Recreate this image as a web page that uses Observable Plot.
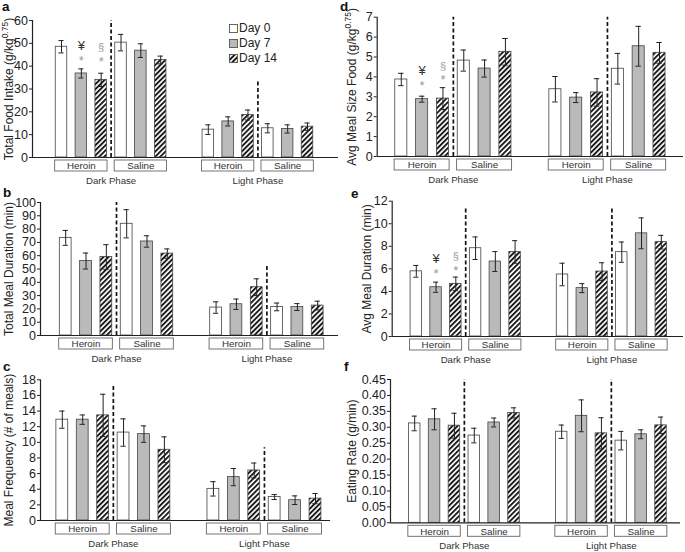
<!DOCTYPE html>
<html><head><meta charset="utf-8">
<script src="https://cdn.jsdelivr.net/npm/d3@7"></script>
<script src="https://cdn.jsdelivr.net/npm/@observablehq/plot@0.6"></script>
<style>
body{margin:0;background:#fff;font-family:"Liberation Sans",Arial,sans-serif;}
#root{position:relative;width:685px;height:552px;overflow:hidden;background:#fff;}
.panel{position:absolute;}
.panel svg{overflow:visible;display:block;}
.letter{position:absolute;font-weight:bold;font-size:13.5px;line-height:13.5px;color:#111;}
.legend{position:absolute;left:229px;top:21px;font-size:12px;line-height:15px;color:#222;}
.legend div{display:flex;align-items:center;height:15px;}
.legend svg{margin-right:1px;}
</style></head><body>
<svg width="0" height="0" style="position:absolute">
  <defs>
    <pattern id="hatch" patternUnits="userSpaceOnUse" width="3.6" height="3.6" patternTransform="rotate(45)">
      <rect width="3.6" height="3.6" fill="#fff"/>
      <rect width="1.9" height="3.6" fill="#1a1a1a"/>
    </pattern>
  </defs>
</svg>
<div id="root"></div>
<script>
// ---------- categories ----------
const phases = ["Dark Phase", "Light Phase"];
const treatments = ["Heroin", "Saline"];
const days = ["Day 0", "Day 7", "Day 14"];
// value order: phase > treatment > day

// ---------- a: Total Food Intake ----------
const foodMean = [48.5, 36.8, 34.0, 50.3, 46.8, 42.7, 12.2, 15.8, 18.6, 12.8, 12.5, 13.5];
const foodSE   = [2.7, 2.0, 2.9, 3.6, 3.0, 1.7, 2.1, 2.0, 2.2, 2.0, 1.8, 1.6];
const foodTicks = [0, 10, 20, 30, 40, 50, 60];
const foodDash = [60, 34];
const foodSig = [{bar: 1, text: "¥", value: 49}, {bar: 1, text: "*", value: 42.5},
                 {bar: 2, text: "§", value: 48}, {bar: 2, text: "*", value: 41.7}];

// ---------- b: Total Meal Duration ----------
const durMean = [73.4, 56.0, 59.0, 84.0, 70.7, 61.6, 21.0, 23.5, 36.3, 21.5, 21.4, 22.5];
const durSE   = [5.6, 6.0, 9.3, 10.6, 4.3, 3.5, 4.3, 3.9, 6.3, 2.9, 2.6, 3.3];
const durTicks = [0, 10, 20, 30, 40, 50, 60, 70, 80, 90, 100];
const durDash = [100, 52];
const durSig = [];

// ---------- c: Meal Frequency ----------
const freqMean = [12.9, 12.9, 13.45, 11.25, 11.05, 9.05, 4.05, 5.55, 6.4, 3.0, 2.6, 2.8];
const freqSE   = [1.1, 0.6, 2.7, 1.75, 1.05, 1.65, 0.92, 1.1, 0.95, 0.32, 0.55, 0.65];
const freqTicks = [0, 2, 4, 6, 8, 10, 12, 14, 16, 18];
const freqDash = [17.4, 9.3];
const freqSig = [];

// ---------- d: Avg Meal Size ----------
const sizeMean = [3.87, 2.88, 2.91, 4.82, 4.42, 5.26, 3.38, 2.96, 3.22, 4.41, 5.54, 5.21];
const sizeSE   = [0.31, 0.15, 0.55, 0.53, 0.43, 0.67, 0.64, 0.25, 0.69, 0.77, 1.0, 0.52];
const sizeTicks = [0, 1, 2, 3, 4, 5, 6, 7];
const sizeDash = [7, 7];
const sizeSig = [{bar: 1, text: "¥", value: 4.3}, {bar: 1, text: "*", value: 3.55},
                 {bar: 2, text: "§", value: 4.5}, {bar: 2, text: "*", value: 3.87}];

// ---------- e: Avg Meal Duration ----------
const mdurMean = [5.78, 4.37, 4.67, 7.83, 6.65, 7.5, 5.5, 4.29, 5.76, 7.48, 9.15, 8.37];
const mdurSE   = [0.52, 0.45, 0.6, 1.0, 0.88, 1.0, 1.0, 0.4, 0.78, 0.9, 1.37, 0.6];
const mdurTicks = [0, 2, 4, 6, 8, 10, 12];
const mdurDash = [11.3, 11.3];
const mdurSig = [{bar: 1, text: "¥", value: 6.9}, {bar: 1, text: "*", value: 5.56},
                 {bar: 2, text: "§", value: 7.1}, {bar: 2, text: "*", value: 5.85}];

// ---------- f: Eating Rate ----------
const rateMean = [0.312, 0.325, 0.305, 0.274, 0.315, 0.345, 0.286, 0.336, 0.281, 0.258, 0.278, 0.306];
const rateSE   = [0.023, 0.033, 0.039, 0.023, 0.014, 0.016, 0.021, 0.05, 0.049, 0.029, 0.014, 0.026];
const rateTicks = [0, 0.05, 0.10, 0.15, 0.20, 0.25, 0.30, 0.35, 0.40, 0.45];
const rateDash = [0.45, 0.45];
const rateSig = [];

// ---------- layout (pixels) ----------
const LIGHT_OFFSET = 7.4;   // slot offset of the light-phase group
const BAR_HALF = 0.29, CAP_HALF = 0.13, BOX_HALF = 0.32;
const FONT = "'Liberation Sans', Arial, sans-serif";

const panels = [
  {letter: "a", lx: 2, ly: 0, mean: foodMean, se: foodSE, ticks: foodTicks, dash: foodDash, sig: foodSig,
   label: "Total Food Intake (g/kg", sup: "0.75",
   left: 0, top: 0, width: 340, height: 186, axisX: 32, right: 338, c0: 61, cLast: 307, yTop: 20, yBottom: 157, labelOffset: 28},
  {letter: "d", lx: 340, ly: 0, mean: sizeMean, se: sizeSE, ticks: sizeTicks, dash: sizeDash, sig: sizeSig,
   label: "Avg Meal Size Food (g/kg", sup: "0.75",
   left: 340, top: 0, width: 345, height: 186, axisX: 36.7, right: 343, c0: 60.8, cLast: 319, yTop: 16.7, yBottom: 156, labelOffset: 30},
  {letter: "b", lx: 3, ly: 186, mean: durMean, se: durSE, ticks: durTicks, dash: durDash, sig: durSig,
   label: "Total Meal Duration (min)",
   left: 0, top: 186, width: 340, height: 178, axisX: 40, right: 338, c0: 65.2, cLast: 317.2, yTop: 16, yBottom: 149, labelOffset: 36},
  {letter: "e", lx: 351, ly: 187, mean: mdurMean, se: mdurSE, ticks: mdurTicks, dash: mdurDash, sig: mdurSig,
   label: "Avg Meal Duration (min)",
   left: 340, top: 186, width: 345, height: 178, axisX: 51.7, right: 343, c0: 75.8, cLast: 320.8, yTop: 14.7, yBottom: 150, labelOffset: 30},
  {letter: "c", lx: 3, ly: 360, mean: freqMean, se: freqSE, ticks: freqTicks, dash: freqDash, sig: freqSig,
   label: "Meal Frequency (# of meals)",
   left: 0, top: 364, width: 340, height: 188, axisX: 40, right: 330, c0: 61.8, cLast: 315, yTop: 15.3, yBottom: 156, labelOffset: 36},
  {letter: "f", lx: 344, ly: 360, mean: rateMean, se: rateSE, ticks: rateTicks, dash: rateDash, sig: rateSig,
   label: "Eating Rate (g/min)", fmt: d3.format(".2f"),
   left: 340, top: 364, width: 345, height: 188, axisX: 50, right: 340, c0: 74.2, cLast: 320.5, yTop: 15, yBottom: 158.3, labelOffset: 43}
];

const root = document.getElementById("root");

for (const p of panels) {
  const step = (p.cLast - p.c0) / (LIGHT_OFFSET + 5);
  const xmin = (p.axisX - p.c0) / step;
  const xmax = (p.right - p.c0) / step;

  const rows = [];
  phases.forEach((ph, i) => treatments.forEach((tr, j) => days.forEach((dy, k) => {
    const idx = i * 6 + j * 3 + k;
    rows.push({phase: ph, treatment: tr, day: dy, pos: i * LIGHT_OFFSET + j * 3 + k,
               mean: p.mean[idx], se: p.se[idx]});
  })));
  const boxes = [];
  phases.forEach((ph, i) => treatments.forEach((tr, j) => {
    const base = i * LIGHT_OFFSET + j * 3;
    boxes.push({label: tr, x1: base - BOX_HALF, x2: base + 2 + BOX_HALF, cx: base + 1});
  }));
  const phaseRows = phases.map((ph, i) => ({label: ph, pos: i * LIGHT_OFFSET + 2.5, top: p.dash[i]}));
  const sig = p.sig.map(s => ({...s, pos: rows[s.bar].pos}));

  const svg = Plot.plot({
    width: p.width, height: p.height,
    marginLeft: p.axisX, marginRight: p.width - p.right,
    marginTop: p.yTop, marginBottom: p.height - p.yBottom,
    x: {domain: [xmin, xmax], axis: null},
    y: {domain: [0, p.ticks[p.ticks.length - 1]]},
    color: {domain: days, range: ["#ffffff", "#bababa", "url(#hatch)"]},
    style: {fontFamily: FONT, fontSize: "12px", color: "#222", background: "none", overflow: "visible"},
    marks: [
      Plot.axisY({ticks: p.ticks, tickFormat: p.fmt || (d => d), tickSize: 3, tickPadding: 1.5,
                  fontSize: 12.5}),
      Plot.axisY({ticks: [], tickSize: 0, label: p.label, labelAnchor: "center", labelArrow: "none",
                  labelOffset: p.labelOffset, fontSize: 12}),
      Plot.rect(rows, {x1: d => d.pos - BAR_HALF, x2: d => d.pos + BAR_HALF, y1: d => 0, y2: "mean",
                       fill: "day", stroke: "#444", strokeWidth: 0.8}),
      Plot.ruleX(rows, {x: "pos", y1: d => d.mean - d.se, y2: d => d.mean + d.se, stroke: "#222", strokeWidth: 1}),
      Plot.ruleY(rows, {y: d => d.mean + d.se, x1: d => d.pos - CAP_HALF, x2: d => d.pos + CAP_HALF, stroke: "#222", strokeWidth: 1}),
      Plot.ruleY(rows, {y: d => d.mean - d.se, x1: d => d.pos - CAP_HALF, x2: d => d.pos + CAP_HALF, stroke: "#222", strokeWidth: 1}),
      Plot.ruleX(phaseRows, {x: "pos", y1: d => 0, y2: "top", stroke: "#111", strokeWidth: 1.7, strokeDasharray: "4,2.5"}),
      Plot.ruleY([0], {stroke: "#222", strokeWidth: 1.2}),
      Plot.ruleX([xmin], {stroke: "#222", strokeWidth: 1.2}),
      Plot.rect(boxes, {x1: "x1", x2: "x2", y1: d => 0, y2: d => 0, insetTop: 3, insetBottom: -14,
                        fill: "white", stroke: "#666", strokeWidth: 0.9}),
      Plot.text(boxes, {x: "cx", y: d => 0, dy: 8.7, text: "label", fontSize: 9.8, fill: "#333"}),
      Plot.text(phaseRows, {x: "pos", y: d => 0, dy: 23.5, text: "label", fontSize: 9.6, fill: "#333"}),
      Plot.text(sig, {filter: d => d.text === "¥", x: "pos", y: "value", text: "text", fontSize: 13, fill: "#333"}),
      Plot.text(sig, {filter: d => d.text === "§", x: "pos", y: "value", text: "text", fontSize: 11, fill: "#9a9a9a"}),
      Plot.text(sig, {filter: d => d.text === "*", x: "pos", y: "value", text: "text", fontSize: 13, fill: "#9a9a9a"})
    ]
  });

  if (p.sup) {
    const t = svg.querySelector('g[aria-label="y-axis label"] text');
    if (t) t.innerHTML = p.label + '<tspan baseline-shift="super" font-size="8.5">' + p.sup + '</tspan>)';
  }

  const div = document.createElement("div");
  div.className = "panel";
  div.style.left = p.left + "px";
  div.style.top = p.top + "px";
  div.appendChild(svg);
  root.appendChild(div);

  const L = document.createElement("div");
  L.className = "letter";
  L.style.left = p.lx + "px";
  L.style.top = p.ly + "px";
  L.textContent = p.letter;
  root.appendChild(L);
}

// legend (panel a)
const legend = document.createElement("div");
legend.className = "legend";
const swatchFill = ["#ffffff", "#bababa", "url(#hatch)"];
days.forEach((d, i) => {
  const row = document.createElement("div");
  row.innerHTML = `<svg width="9" height="9"><rect x="0.5" y="0.5" width="8" height="8" fill="${swatchFill[i]}" stroke="#555" stroke-width="0.9"/></svg><span>${d}</span>`;
  legend.appendChild(row);
});
root.appendChild(legend);
</script>
</body></html>
